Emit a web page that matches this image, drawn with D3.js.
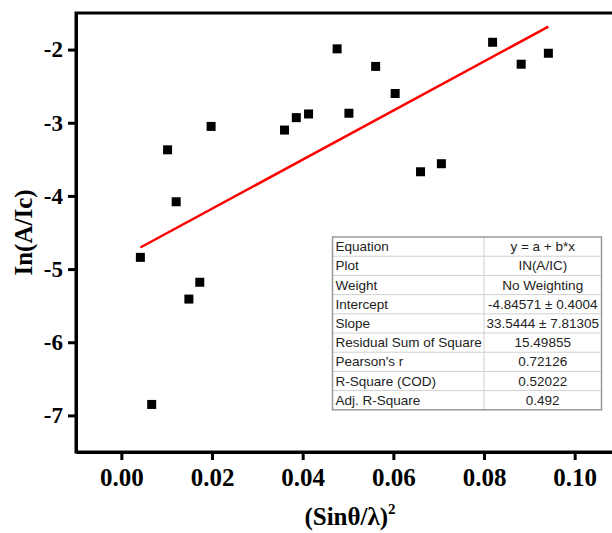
<!DOCTYPE html>
<html lang="en">
<head>
    <meta charset="utf-8">
    <script type="text/javascript" src="https://d3js.org/d3.v7.min.js"></script>
    <title>ln(A/Ic) vs (sin theta / lambda)^2</title>
    <style>
        html, body { margin: 0; padding: 0; background: white; }
        svg { display: block; }
    </style>
</head>
<body>
    <div id="chart"></div>

    <script type="text/javascript">

        // Data points
        const xVals = [0.0042, 0.0067, 0.0102, 0.0121, 0.0149, 0.0173, 0.0198, 0.0360, 0.0386, 0.0413,
                       0.0476, 0.0502, 0.0561, 0.0604, 0.0660, 0.0706, 0.0819, 0.0882, 0.0942];
        const yVals = [-4.84, -6.85, -3.37, -4.08, -5.41, -5.18, -3.05, -3.10, -2.93, -2.88,
                       -1.99, -2.87, -2.23, -2.60, -3.67, -3.56, -1.90, -2.20, -2.05];

        // Linear fit y = a + b*x
        const intercept = -4.84571;
        const slope = 33.5444;

        // Axis ticks
        const xTicks = [0.00, 0.02, 0.04, 0.06, 0.08, 0.10];
        const yTicks = [-7, -6, -5, -4, -3, -2];

        // Fit result table
        const tableLabels = ["Equation", "Plot", "Weight", "Intercept", "Slope",
                             "Residual Sum of Square", "Pearson's r", "R-Square (COD)", "Adj. R-Square"];
        const tableValues = ["y = a + b*x", "IN(A/IC)", "No Weighting", "-4.84571 \u00b1 0.4004",
                             "33.5444 \u00b1 7.81305", "15.49855", "0.72126", "0.52022", "0.492"];

        const W = 612, H = 533;
        const plotL = 76, plotT = 13, plotR = 620, plotB = 452;
        const serif = "'Liberation Serif', 'Times New Roman', serif";
        const sans = "'Liberation Sans', Arial, sans-serif";

        const svg = d3.select("#chart").append("svg")
            .attr("width", W)
            .attr("height", H);

        const x = d3.scaleLinear().domain([-0.01, 0.11]).range([plotL, plotR]);
        const y = d3.scaleLinear().domain([-7.5, -1.5]).range([plotB, plotT]);

        // frame (right side falls off the picture)
        svg.append("rect")
            .attr("x", plotL).attr("y", plotT)
            .attr("width", plotR - plotL).attr("height", plotB - plotT)
            .attr("fill", "none").attr("stroke", "black").attr("stroke-width", 3);

        // X axis
        const xAxis = svg.append("g")
            .attr("transform", `translate(0,${plotB})`)
            .call(d3.axisBottom(x).tickValues(xTicks).tickFormat(d3.format(".2f"))
                    .tickSize(8).tickPadding(8).tickSizeOuter(0));
        xAxis.select(".domain").attr("stroke-width", 3);
        xAxis.selectAll(".tick line").attr("stroke-width", 3);
        xAxis.selectAll(".tick text")
            .style("font-family", serif).style("font-weight", "bold")
            .style("font-size", "25px").attr("fill", "black");

        // Y axis
        const yAxis = svg.append("g")
            .attr("transform", `translate(${plotL},0)`)
            .call(d3.axisLeft(y).tickValues(yTicks).tickFormat(d => String(d))
                    .tickSize(8).tickPadding(5).tickSizeOuter(0));
        yAxis.select(".domain").attr("stroke-width", 3);
        yAxis.selectAll(".tick line").attr("stroke-width", 3);
        yAxis.selectAll(".tick text")
            .style("font-family", serif).style("font-weight", "bold")
            .style("font-size", "23px").attr("fill", "black");

        // Axis titles
        svg.append("text")
            .attr("transform", `translate(32,${(plotT + plotB) / 2}) rotate(-90)`)
            .attr("text-anchor", "middle")
            .style("font-family", serif)
            .style("font-weight", "bold")
            .style("font-size", "25px")
            .text("In(A/Ic)");

        const xTitle = svg.append("text")
            .attr("x", 350).attr("y", 525)
            .attr("text-anchor", "middle")
            .style("font-family", serif)
            .style("font-weight", "bold")
            .style("font-size", "25px");
        xTitle.append("tspan").text("(Sin\u03b8/\u03bb)");
        xTitle.append("tspan").attr("dy", -11).style("font-size", "15px").text("2");

        // Fit line across the data range
        const xMin = d3.min(xVals), xMax = d3.max(xVals);
        svg.append("line")
            .attr("x1", x(xMin)).attr("y1", y(intercept + slope * xMin))
            .attr("x2", x(xMax)).attr("y2", y(intercept + slope * xMax))
            .attr("stroke", "#ff0000").attr("stroke-width", 2.5);

        // Points
        const pts = xVals.map((v, i) => ({x: v, y: yVals[i]}));
        const s = 9;
        svg.selectAll("rect.pt")
            .data(pts)
            .join("rect")
                .attr("class", "pt")
                .attr("x", d => x(d.x) - s / 2)
                .attr("y", d => y(d.y) - s / 2)
                .attr("width", s).attr("height", s)
                .attr("fill", "black");

        // Table
        const tx = 332.5, ty = 237, tw = 269, rowH = 19.2, colX = 484;
        const table = svg.append("g");
        tableLabels.forEach((lab, i) => {
            const ry = ty + i * rowH;
            if (i > 0) {
                table.append("line")
                    .attr("x1", tx).attr("x2", tx + tw)
                    .attr("y1", ry).attr("y2", ry)
                    .attr("stroke", "#d0d0d0").attr("stroke-width", 1);
            }
            table.append("text")
                .attr("x", tx + 3).attr("y", ry + rowH / 2 + 4.5)
                .style("font-family", sans)
                .style("font-size", "13.5px")
                .attr("fill", "#222")
                .text(lab);
            table.append("text")
                .attr("x", (colX + tx + tw) / 2).attr("y", ry + rowH / 2 + 4.5)
                .attr("text-anchor", "middle")
                .style("font-family", sans)
                .style("font-size", "13.5px")
                .attr("fill", "#222")
                .text(tableValues[i]);
        });
        table.append("line")
            .attr("x1", colX).attr("x2", colX)
            .attr("y1", ty).attr("y2", ty + rowH * tableLabels.length)
            .attr("stroke", "#d0d0d0").attr("stroke-width", 1);
        table.append("rect")
            .attr("x", tx).attr("y", ty)
            .attr("width", tw).attr("height", rowH * tableLabels.length)
            .attr("fill", "none").attr("stroke", "#999").attr("stroke-width", 1.5);

    </script>
</body>
</html>
